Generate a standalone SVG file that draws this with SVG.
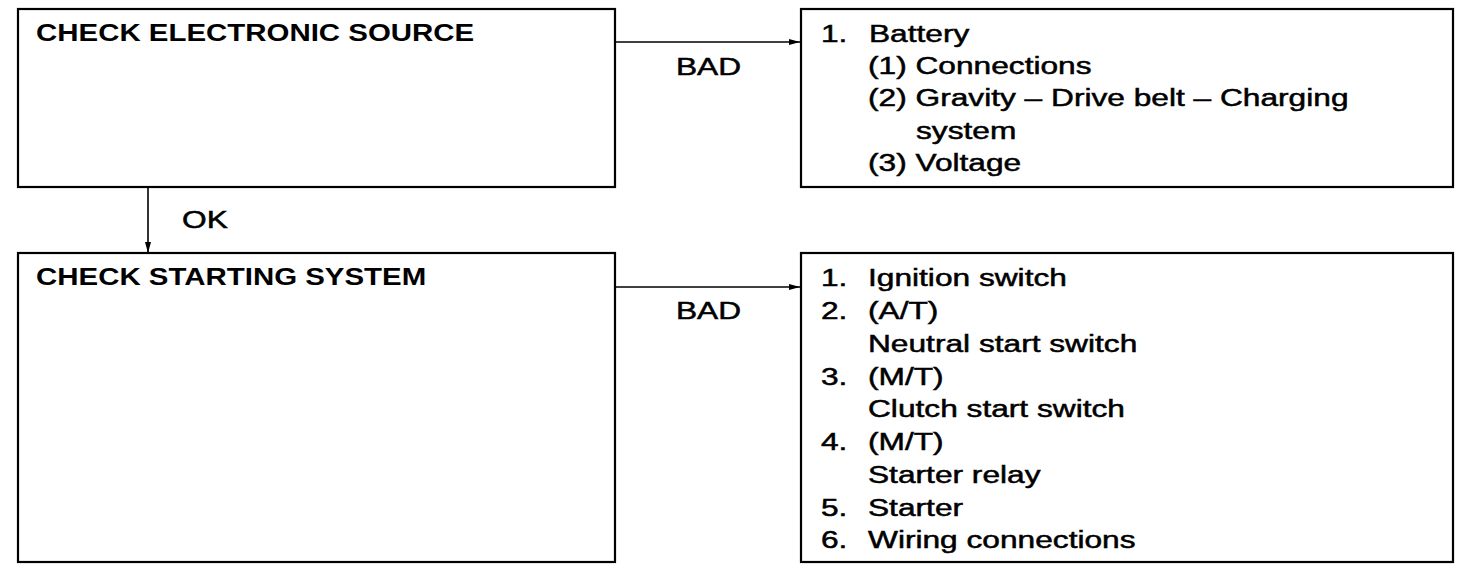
<svg xmlns="http://www.w3.org/2000/svg" width="1472" height="576" viewBox="0 0 1472 576">
<style>
.box{fill:#fff;stroke:#000;stroke-width:2.2}
.t{font-family:"Liberation Sans",Arial,sans-serif;font-size:24px;fill:#000;stroke:#000;stroke-width:0.5}
.h{font-family:"Liberation Sans",Arial,sans-serif;font-size:23px;font-weight:bold;fill:#000}
.c{stroke:#000;stroke-width:1.6;fill:none}
</style>
<defs>
<marker id="ah" markerWidth="12" markerHeight="8" refX="11" refY="4" orient="auto" markerUnits="userSpaceOnUse">
<path d="M0,1 L11,4 L0,7 Z" fill="#000"/>
</marker>
</defs>
<rect width="1472" height="576" fill="#fff"/>
<g id="connectors">
<line class="c" x1="616" y1="42" x2="800" y2="42" marker-end="url(#ah)"/>
<line class="c" x1="616" y1="287" x2="800" y2="287" marker-end="url(#ah)"/>
<line class="c" x1="148" y1="188" x2="148" y2="253" marker-end="url(#ah)"/>
<text class="t" transform="translate(676 75) scale(1.32 1)">BAD</text>
<text class="t" transform="translate(676 319) scale(1.32 1)">BAD</text>
<text class="t" transform="translate(182 228) scale(1.32 1)">OK</text>
</g>
<g id="n1">
<rect class="box" x="18" y="9" width="597" height="178"/>
<text class="h" transform="translate(36 41) scale(1.28 1)">CHECK ELECTRONIC SOURCE</text>
</g>
<g id="n2">
<rect class="box" x="801" y="9" width="652" height="178"/>
<text class="t" transform="translate(821 42) scale(1.32 1)">1.</text>
<text class="t" transform="translate(869 42) scale(1.32 1)">Battery</text>
<text class="t" transform="translate(868 74) scale(1.32 1)">(1) Connections</text>
<text class="t" transform="translate(868 106) scale(1.32 1)">(2) Gravity – Drive belt – Charging</text>
<text class="t" transform="translate(916 139) scale(1.32 1)">system</text>
<text class="t" transform="translate(868 171) scale(1.32 1)">(3) Voltage</text>
</g>
<g id="n3">
<rect class="box" x="18" y="253" width="597" height="309"/>
<text class="h" transform="translate(36 285) scale(1.28 1)">CHECK STARTING SYSTEM</text>
</g>
<g id="n4">
<rect class="box" x="801" y="253" width="652" height="309"/>
<text class="t" transform="translate(821 286) scale(1.32 1)">1.</text>
<text class="t" transform="translate(868 286) scale(1.32 1)">Ignition switch</text>
<text class="t" transform="translate(821 319) scale(1.32 1)">2.</text>
<text class="t" transform="translate(868 319) scale(1.32 1)">(A/T)</text>
<text class="t" transform="translate(868 352) scale(1.32 1)">Neutral start switch</text>
<text class="t" transform="translate(821 385) scale(1.32 1)">3.</text>
<text class="t" transform="translate(868 385) scale(1.32 1)">(M/T)</text>
<text class="t" transform="translate(868 417) scale(1.32 1)">Clutch start switch</text>
<text class="t" transform="translate(821 450) scale(1.32 1)">4.</text>
<text class="t" transform="translate(868 450) scale(1.32 1)">(M/T)</text>
<text class="t" transform="translate(868 483) scale(1.32 1)">Starter relay</text>
<text class="t" transform="translate(821 516) scale(1.32 1)">5.</text>
<text class="t" transform="translate(868 516) scale(1.32 1)">Starter</text>
<text class="t" transform="translate(821 548) scale(1.32 1)">6.</text>
<text class="t" transform="translate(868 548) scale(1.32 1)">Wiring connections</text>
</g>
</svg>
